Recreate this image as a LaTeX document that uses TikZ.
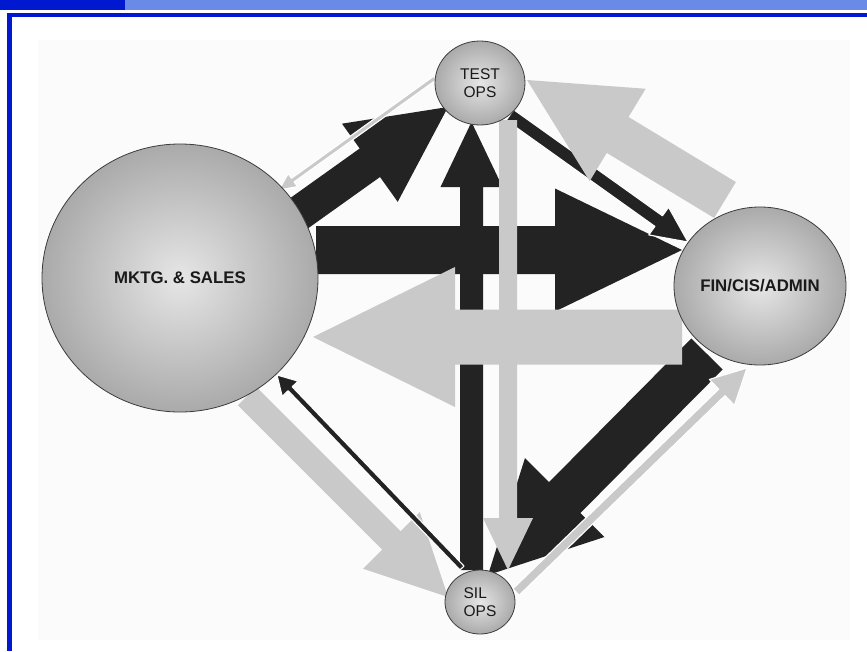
\documentclass[tikz,border=0pt]{standalone}
\usepackage{fontspec}
\setmainfont{Liberation Sans}
\usetikzlibrary{calc,shapes.geometric}
\definecolor{arrdark}{RGB}{35,35,35}
\definecolor{arrlight}{RGB}{201,201,201}
\definecolor{bardark}{RGB}{0,24,208}
\definecolor{barlight}{RGB}{106,138,232}
\definecolor{panel}{RGB}{251,251,251}
\definecolor{ballin}{RGB}{230,230,230}
\definecolor{ballout}{RGB}{170,170,170}
\definecolor{ballrim}{RGB}{60,60,60}
\pgfdeclarelayer{fg}
\pgfsetlayers{main,fg}
\tikzset{
  darkarrow/.style={fill=arrdark},
  lightarrow/.style={fill=arrlight},
  rimmed/.style={draw=white,line width=1.1pt,line join=round},
  ball/.style={ellipse,draw=ballrim,line width=0.8pt,inner color=ballin,outer color=ballout,inner sep=0pt,text=black!90},
  bigtext/.style={font=\fontsize{16.8}{20}\selectfont\bfseries},
  smalltext/.style={font=\fontsize{15.5}{18.5}\selectfont}
}
% #1 style, #2 start coordinate, #3 tip coordinate, #4 half shaft width, #5 half head width, #6 head length
\newcommand\fatarr[6]{%
  \coordinate (fa-h) at ($(#3)!#6!(#2)$);
  \path[#1] ($(#2)!#4!90:(#3)$) -- ($(fa-h)!#4!90:(#3)$) -- ($(fa-h)!#5!90:(#3)$) -- (#3)
    -- ($(fa-h)!#5!-90:(#3)$) -- ($(fa-h)!#4!-90:(#3)$) -- ($(#2)!#4!-90:(#3)$) -- cycle;}
\begin{document}
\begin{tikzpicture}[x=1pt,y=-1pt]
\useasboundingbox (0,0) rectangle (867,651);
\fill[white] (0,0) rectangle (867,651);
\fill[bardark] (0,0) rectangle (125,9.5);
\fill[barlight] (125,0) rectangle (867,9.5);
\fill[bardark] (7,12.5) rectangle (867,16.7);
\fill[bardark] (7,12.5) rectangle (12,651);
\fill[panel] (38,40) rectangle (850,640);

\begin{pgfonlayer}{fg}
\node[ball,bigtext,minimum width=276pt,minimum height=268pt] (mktg) at (180,278) {MKTG. \& SALES};
\node[ball,bigtext,minimum width=172pt,minimum height=158pt] (fin) at (760,286) {FIN/CIS/ADMIN};
\node[ball,smalltext,align=center,minimum width=90pt,minimum height=84pt] (test) at (480,83) {TEST\\OPS};
\node[ball,smalltext,align=left,minimum width=70pt,minimum height=64pt] (sil) at (480,602) {SIL\\OPS};
\end{pgfonlayer}

% connector end points on the nodes
\coordinate (a1s) at ($(mktg)+(136,-28)$);  \coordinate (a1t) at ($(fin)+(-78,-36)$);
\coordinate (a2s) at ($(fin)+(-78,51)$);    \coordinate (a2t) at ($(mktg)+(133,59)$);
\coordinate (a3s) at ($(sil)+(-8.5,-32)$);  \coordinate (a3t) at ($(test)+(-8.5,39)$);
\coordinate (a4s) at ($(test)+(28,37)$);    \coordinate (a4t) at ($(sil)+(28,-32)$);
\coordinate (a5s) at ($(fin)+(-53,68)$);    \coordinate (a5t) at ($(sil)+(8,-27)$);
\coordinate (a6s) at ($(mktg)+(67,118)$);   \coordinate (a6t) at ($(sil)+(-32,-5)$);
\coordinate (a7s) at ($(sil)+(-18,-34)$);   \coordinate (a7t) at ($(mktg)+(97,97)$);
\coordinate (a8s) at ($(test)+(-45,-5)$);   \coordinate (a8t) at ($(mktg)+(99,-88)$);
\coordinate (a9s) at ($(mktg)+(118,-64)$);  \coordinate (a9t) at ($(test)+(-32,24)$);
\coordinate (a10s) at ($(test)+(30,32)$);   \coordinate (a10t) at ($(fin)+(-72,-44)$);
\coordinate (a11s) at ($(fin)+(-35,-86)$);  \coordinate (a11t) at ($(test)+(47,-3)$);
\coordinate (a12s) at ($(sil)+(36,-10)$);   \coordinate (a12t) at ($(fin)+(-13,82)$);

% dark flows
\fatarr{darkarrow}{a1s}{a1t}{24pt}{61.5pt}{127pt}
\fatarr{darkarrow}{a3s}{a3t}{11.5pt}{31pt}{65pt}
\fatarr{darkarrow}{a5s}{a5t}{22pt}{56pt}{109pt}
\fatarr{darkarrow}{a9s}{a9t}{17.5pt}{48pt}{96pt}
\fatarr{darkarrow,rimmed}{a10s}{a10t}{6.5pt}{17pt}{36pt}
% light flows
\fatarr{lightarrow}{a2s}{a2t}{27.5pt}{70pt}{142pt}
\fatarr{lightarrow}{a4s}{a4t}{9pt}{25pt}{52pt}
\fatarr{lightarrow}{a6s}{a6t}{13pt}{40pt}{80pt}
\fatarr{lightarrow}{a11s}{a11t}{21pt}{54pt}{106pt}
% thin flows
\fatarr{darkarrow,rimmed}{a7s}{a7t}{2.8pt}{11pt}{19pt}
\fatarr{lightarrow,rimmed}{a8s}{a8t}{2.2pt}{8pt}{17pt}
\fatarr{lightarrow,rimmed}{a12s}{a12t}{4.5pt}{18pt}{35pt}
\end{tikzpicture}
\end{document}
